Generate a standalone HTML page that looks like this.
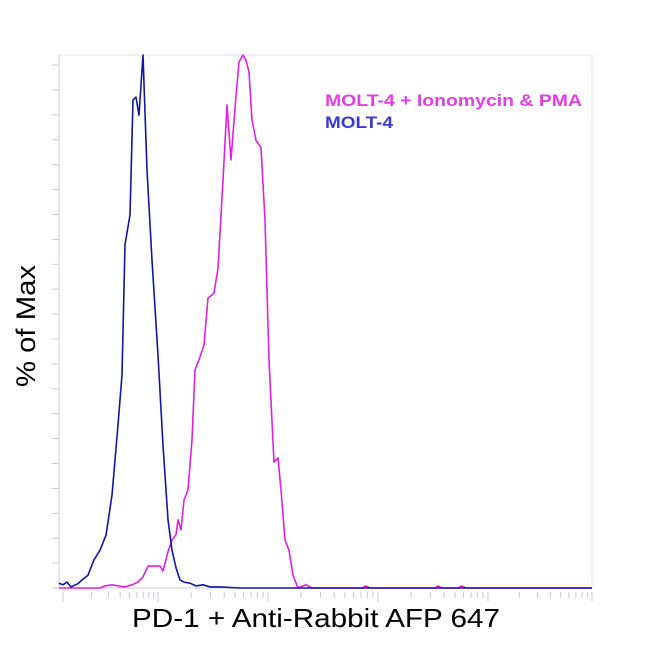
<!DOCTYPE html>
<html><head><meta charset="utf-8"><style>
body{margin:0;background:#fff;font-family:"Liberation Sans",Arial,sans-serif}
svg{display:block}
</style></head><body>
<svg id="chart" width="650" height="650">
<g id="axes"></g>
<g id="series"></g>
<text x="325" y="106" font-size="17" font-weight="bold" fill="#e040e0" textLength="257" lengthAdjust="spacingAndGlyphs">MOLT-4 + Ionomycin &amp; PMA</text>
<text x="325" y="128" font-size="17" font-weight="bold" fill="#3a3ad0" textLength="68" lengthAdjust="spacingAndGlyphs">MOLT-4</text>
<text transform="translate(35,326) rotate(-90)" text-anchor="middle" font-size="27" fill="#000" textLength="122" lengthAdjust="spacingAndGlyphs">% of Max</text>
<text x="132" y="627" font-size="26" fill="#000" textLength="368" lengthAdjust="spacingAndGlyphs">PD-1 + Anti-Rabbit AFP 647</text>
</svg>
<script>
const blueX=[0,4,8,12,19,23,29,35,41,47,53,59,63,66,71,74,77,80,84,88,93,99,104,109,113,117,121,125,131,137,144,151,161,181,533];
const blueY=[0.9,0.6,1.1,0.2,0.8,1.5,2.4,5.3,7.1,9.9,17.4,30.6,40,64.4,70,91.6,92.1,88.7,100,78.4,61.5,43.7,26.8,12.8,7.1,3.8,1.5,1.1,0.9,0.4,0.6,0.2,0.2,0,0];
const magX=[0,41,46,53,59,66,73,79,84,89,96,101,104,109,113,117,119,122,125,129,133,136,140,145,149,155,159,164,168,172,176,180,184,187,190,193,197,202,206,210,215,219,222,226,230,234,239,247,253,303,307,311,376,379,383,399,403,407,533];
const magY=[0,0,0.4,0.6,0.4,0.2,0.6,1.1,2.1,4.1,4.1,4.1,3.2,6.8,9,10,12.8,10.9,16.5,18.4,27.8,40.9,42.8,45.6,54.4,55.3,60,76.5,90.6,80.3,90,98.7,100,99,96.8,87.8,84,82.6,69,42.8,23.6,24.4,18.4,9,7.1,2.4,0,0.6,0,0,0.4,0,0,0.4,0,0,0.4,0,0];
const X0=59,X1=592,Y0=588,Y1=55;
const xs=v=>X0+v/533*(X1-X0);
const ys=v=>Y0-v/100*(Y0-Y1);
const NS="http://www.w3.org/2000/svg";
const axes=document.getElementById('axes');
function ln(x1,y1,x2,y2,c,w,name){const l=document.createElementNS(NS,'line');
l.setAttribute('x1',x1);l.setAttribute('y1',y1);l.setAttribute('x2',x2);l.setAttribute('y2',y2);
l.setAttribute('stroke',c);l.setAttribute('stroke-width',w);


axes.appendChild(l);}
ln(X0,Y1,X1,Y1,'#e2e2e8',1,'plot-top-border');
ln(X1,Y1,X1,Y0,'#e2e2e8',1,'plot-right-border');
ln(X0,Y1,X0,Y0,'#c8c8d4',1,'y-axis-line');
ln(X0,Y0,X1,Y0,'#c8c8d4',1,'x-axis-line');
for(let y=Y0;y>=Y1-1;y-=24.9){ln(52,y,X0,y,'#c8c8d4',1,'y-tick');}
const decades=[63,158,268,378,488,592];
for(let d=0;d<decades.length-1;d++){const a=decades[d],b=decades[d+1];
 for(let k=1;k<=9;k++){const x=a+(b-a)*Math.log10(k);ln(x,592,x,k===1?602:598,'#c8c8d4',1,'x-tick');}}
ln(592,592,592,602,'#c8c8d4',1,'x-tick');
function path(xa,ya,c,name){const p=document.createElementNS(NS,'path');
 let d='';for(let i=0;i<xa.length;i++)d+=(i?'L':'M')+xs(xa[i]).toFixed(1)+','+ys(ya[i]).toFixed(1);
 p.setAttribute('d',d);p.setAttribute('fill','none');p.setAttribute('stroke',c);p.setAttribute('stroke-width','1.6');p.setAttribute('stroke-linejoin','round');
 
 
 document.getElementById('series').appendChild(p);}
path(magX,magY,'#e020e0','series-molt4-ionomycin-pma');
path(blueX,blueY,'#1515a0','series-molt4');
</script>
</body></html>
